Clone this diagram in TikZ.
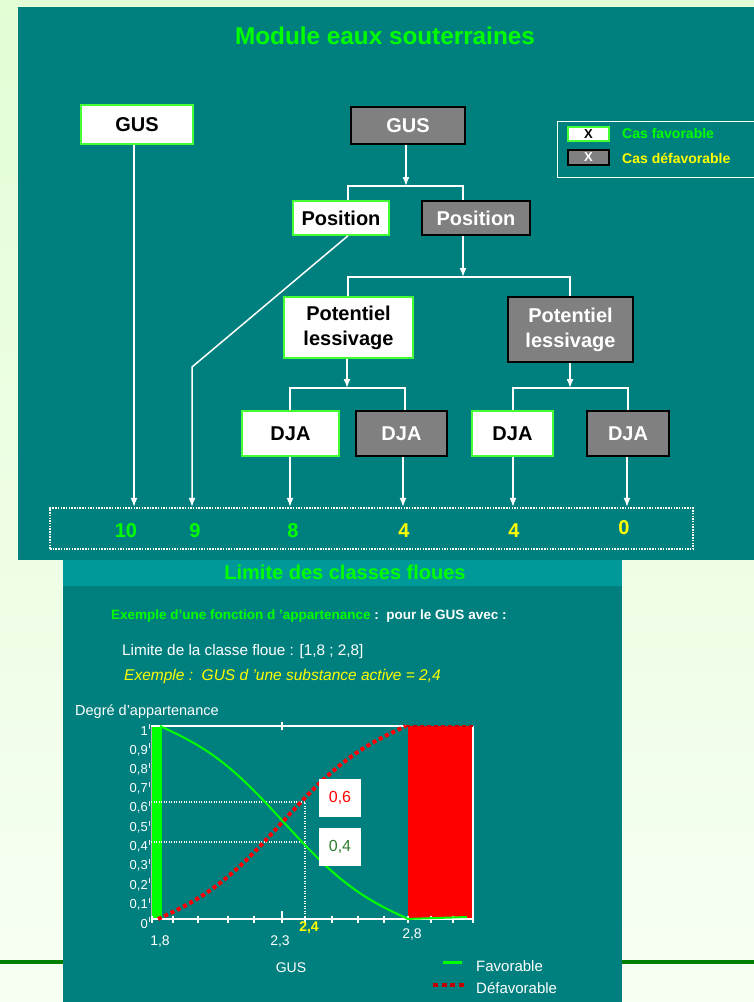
\documentclass[tikz,border=0pt]{standalone}
\usepackage{fontspec}
\setmainfont{Liberation Sans}
\usetikzlibrary{arrows.meta}
\definecolor{panelteal}{HTML}{007F7F}
\definecolor{bandteal}{HTML}{009999}
\definecolor{boxgray}{HTML}{808080}
\definecolor{boxgreen}{HTML}{44FF33}
\definecolor{brightgreen}{HTML}{00FF00}
\definecolor{brightyellow}{HTML}{FFFF00}
\definecolor{pagegreen}{HTML}{008000}
\definecolor{darkred}{HTML}{C00000}
\definecolor{valgreen}{HTML}{2E7D2E}
\definecolor{bgtop}{HTML}{E3FDD5}
\definecolor{bgbot}{HTML}{F7FFF3}
\newcommand\fsz[2]{\fontsize{#1}{#2}\selectfont}
\tikzset{
  wbox/.style={draw=boxgreen, line width=1.5pt, fill=white, text=black, font=\fsz{20}{25}\bfseries, inner sep=0pt, align=center},
  gbox/.style={draw=black, line width=1.5pt, fill=boxgray, text=white, font=\fsz{20}{25}\bfseries, inner sep=0pt, align=center},
  conn/.style={draw=white, line width=1.5pt},
  arr/.style={conn, -{Latex[length=9pt,width=7pt]}},
  num/.style={font=\fsz{20}{24}\bfseries, inner sep=0pt},
  lbl/.style={inner sep=0pt, text=white},
  guide/.style={draw=white, line width=2.5pt, dash pattern=on 1.3pt off 1.2pt},
  valbox/.style={fill=white, inner sep=0pt, minimum width=42pt, minimum height=38pt, font=\fsz{16}{19}},
}
\begin{document}
\begin{tikzpicture}[x=1pt, y=-1pt]
\useasboundingbox (0,0) rectangle (754,1002);
% page background
\shade[top color=bgtop, bottom color=bgbot] (0,0) rectangle (754,1002);
\draw[pagegreen, line width=3.5pt] (0,962) -- (754,962);
% top panel
\fill[panelteal] (18,7) rectangle (754,560);
\node[text=brightgreen, font=\fsz{24.3}{28}\bfseries, inner sep=0pt] (title) at (385,36) {Module eaux souterraines};

% legend
\draw[white, line width=1pt] (754,121) -- (557,121) -- (557,177) -- (754,177);
\node[wbox, font=\fsz{13}{15}\bfseries, minimum width=41pt, minimum height=14pt] (lgW) at (588.5,134) {X};
\node[gbox, font=\fsz{13}{15}\bfseries, minimum width=41pt, minimum height=15pt] (lgG) at (588.5,157.5) {X};
\node[anchor=west, inner sep=0pt, text=brightgreen, font=\fsz{14}{16}\bfseries] (lgWt) at (622,133) {Cas favorable};
\node[anchor=west, inner sep=0pt, text=brightyellow, font=\fsz{14}{16}\bfseries] (lgGt) at (622,158) {Cas défavorable};

% boxes
\node[wbox, minimum width=112pt, minimum height=39pt] (gusW) at (137,124.5) {GUS};
\node[gbox, minimum width=114pt, minimum height=37pt] (gusG) at (408,125.5) {GUS};
\node[wbox, minimum width=96pt, minimum height=34pt] (posW) at (341,218) {Position};
\node[gbox, minimum width=108pt, minimum height=34pt] (posG) at (476,218) {Position};
\node[wbox, minimum width=129pt, minimum height=61pt] (potW) at (348.5,327.5) {Potentiel\\lessivage};
\node[gbox, minimum width=125pt, minimum height=65pt] (potG) at (570.5,329.5) {Potentiel\\lessivage};
\node[wbox, minimum width=97pt, minimum height=45pt] (dja1) at (290.5,433.5) {DJA};
\node[gbox, minimum width=91pt, minimum height=45pt] (dja2) at (401.5,433.5) {DJA};
\node[wbox, minimum width=81pt, minimum height=45pt] (dja3) at (512.5,433.5) {DJA};
\node[gbox, minimum width=82pt, minimum height=45pt] (dja4) at (628,433.5) {DJA};

% score box
\node[draw=white, line width=2.2pt, dash pattern=on 1.5pt off 1.2pt, minimum width=643pt, minimum height=41pt, inner sep=0pt] (score) at (371.5,528.5) {};

% column coordinates
\coordinate (cG) at (134,0);
\coordinate (cPL) at (348,0);
\coordinate (cPR) at (463,0);
\coordinate (cQL) at (348,0);
\coordinate (cQR) at (570,0);
\coordinate (cD1) at (290,0);
\coordinate (cD2) at (405,0);
\coordinate (cD3) at (513,0);
\coordinate (cD4) at (628,0);
\coordinate (cE2) at (403,0);
\coordinate (cE4) at (627,0);
\coordinate (jA) at (406,186);
\coordinate (jB) at (463,277);
\coordinate (jC) at (347,388);
\coordinate (jD) at (570,388);
\coordinate (bend) at (192,367);

% connectors
\draw[arr] (gusW.south -| cG) -- (score.north -| cG);
\draw[arr] (gusG.south -| jA) -- (jA);
\draw[conn] (posW.north -| cPL) |- (jA) -| (posG.north -| cPR);
\draw[arr] (posG.south -| cPR) -- (jB);
\draw[conn] (potW.north -| cQL) |- (jB) -| (potG.north -| cQR);
\draw[arr] (posW.south -| cPL) -- (bend) -- (score.north -| bend);
\draw[arr] (potW.south -| jC) -- (jC);
\draw[conn] (dja1.north -| cD1) |- (jC) -| (dja2.north -| cD2);
\draw[arr] (potG.south -| jD) -- (jD);
\draw[conn] (dja3.north -| cD3) |- (jD) -| (dja4.north -| cD4);
\draw[arr] (dja1.south -| cD1) -- (score.north -| cD1);
\draw[arr] (dja2.south -| cE2) -- (score.north -| cE2);
\draw[arr] (dja3.south -| cD3) -- (score.north -| cD3);
\draw[arr] (dja4.south -| cE4) -- (score.north -| cE4);

% scores
\node[num, text=brightgreen] (s1) at (126,531) {10};
\node[num, text=brightgreen] (s2) at (195,531) {9};
\node[num, text=brightgreen] (s3) at (293,531) {8};
\node[num, text=brightyellow] (s4) at (404,531) {4};
\node[num, text=brightyellow] (s5) at (514,531) {4};
\node[num, text=brightyellow] (s6) at (624,528) {0};

% bottom panel
\fill[panelteal] (63,560) rectangle (622,1002);
\fill[bandteal] (63,560) rectangle (622,586);
\node[text=brightgreen, font=\fsz{20}{24}\bfseries, inner sep=0pt] (title2) at (345,572) {Limite des classes floues};
\node[anchor=west, inner sep=0pt, font=\fsz{13.5}{16}\bfseries] (ex1) at (111,616) {\textcolor{brightgreen}{Exemple d’une fonction d ’appartenance}\textcolor{white}{\ :\ \ pour le GUS avec :}};
\node[anchor=west, lbl, font=\fsz{15.3}{18}] (ex2) at (122,652) {Limite de la classe floue : [1,8 ; 2,8]};
\node[anchor=west, inner sep=0pt, text=brightyellow, font=\fsz{15.5}{18}\itshape] (ex3) at (124,676) {Exemple :\ \ GUS d ’une substance active = 2,4};

% chart
\node[anchor=west, lbl, font=\fsz{14.5}{17}] (ylabel) at (75,712) {Degré d'appartenance};
\fill[brightgreen] (151,726) rectangle (162,919);
\fill[red] (408,726) rectangle (473,919);
\draw[gray!60, line width=1pt] (151,726) -- (151,919);
\draw[white, line width=2pt] (151,726) -- (408,726);
\draw[white, line width=2pt] (473,726) -- (473,919);
\draw[white, line width=2.5pt] (151,919) -- (474,919);
\foreach \xx in {152,173,198,228,254,305,332,358,384,408,431,453,473}
  \draw[white, line width=1.5pt] (\xx,915.5) -- (\xx,922.5);
\draw[white, line width=2pt] (282,911) -- (282,922.5);
\draw[white, line width=1.5pt] (282,722) -- (282,730);
\foreach \m/\l [count=\i] in {1/1,0.9/{0,9},0.8/{0,8},0.7/{0,7},0.6/{0,6},0.5/{0,5},0.4/{0,4},0.3/{0,3},0.2/{0,2},0.1/{0,1},0/0}{
  \node[anchor=east, lbl, font=\fsz{13}{15}] (yt\i) at (148,{919-193*\m+5}) {\l};
  \draw[white!85!gray, line width=1pt] (149.5,{919-193*\m-2}) -- (149.5,{919-193*\m+3});
}
% guides
\draw[guide] (151,802) -- (305,802) -- (305,919);
\draw[guide] (151,842) -- (305,842);
% curves
\draw[brightgreen, line width=2pt] plot[domain=0:1, samples=80, variable=\t] ({160+248*\t},{726+193*(\t-0.4*sin(360*\t)/(2*pi))}) -- (467,917);
\draw[red, line width=4pt, dash pattern=on 4pt off 3pt] plot[domain=0:1, samples=80, variable=\t] ({158+248*\t},{919-193*(\t-0.4*sin(360*\t)/(2*pi))});
\draw[red!80!black, line width=1.5pt, dash pattern=on 4pt off 3pt] (406,726) -- (473,726);
% value boxes
\node[valbox, text=red] (v6) at (340,798) {0,6};
\node[valbox, text=valgreen] (v4) at (340,847) {0,4};
% x labels
\node[lbl, font=\fsz{14}{16}] (x18) at (160,941) {1,8};
\node[lbl, font=\fsz{14}{16}] (x23) at (280,941) {2,3};
\node[lbl, font=\fsz{14}{16}] (x28) at (412,934) {2,8};
\node[inner sep=0pt, text=brightyellow, font=\fsz{14}{16}\bfseries] (x24) at (309,928) {2,4};
\node[lbl, font=\fsz{14}{16}] (xlab) at (291,968) {GUS};
% chart legend
\draw[brightgreen, line width=3pt] (443,962) -- (462,962);
\node[anchor=west, lbl, font=\fsz{15}{18}] (lf) at (476,966) {Favorable};
\draw[darkred, line width=4.5pt, dash pattern=on 5pt off 3.5pt] (433,985) -- (466,985);
\node[anchor=west, lbl, font=\fsz{15}{18}] (ld) at (476,988) {Défavorable};
\end{tikzpicture}
\end{document}
